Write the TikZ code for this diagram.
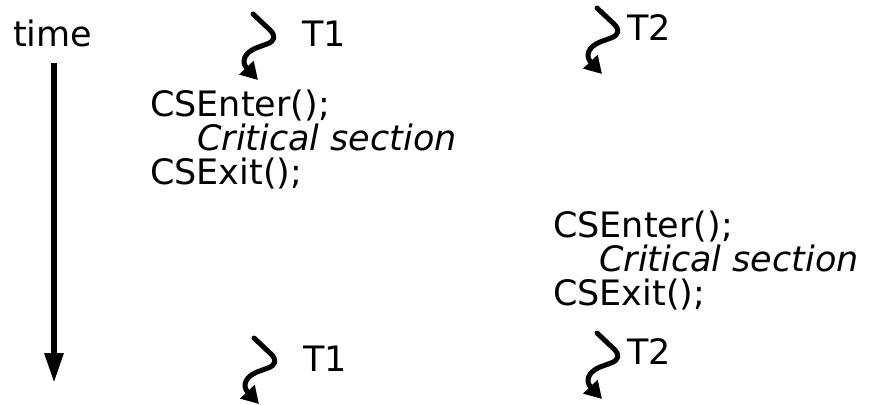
\documentclass[tikz,border=0pt]{standalone}
\usepackage{fontspec}
\setmainfont{DejaVu Sans}
\usetikzlibrary{arrows.meta}
\tikzset{
  lbl/.style={anchor=base west, inner sep=0pt, font=\fontsize{35}{40}\selectfont},
  crit/.style={lbl, font=\fontsize{35}{40}\selectfont\itshape},
  timearrow/.style={line width=6pt, -{Triangle[length=30pt,width=18pt]}},
  squig/.style={line width=5pt, line cap=round, line join=round, -{Triangle[length=17pt,width=19pt]}},
  pics/thread/.style={code={
    \draw[squig] (0,0) -- (17,16) .. controls (23,22) and (22,27) .. (14,30)
      -- (3,34) .. controls (-9,39) and (-12,48) .. (5,66);
  }}
}
\begin{document}
\begin{tikzpicture}[x=1pt,y=-1pt]
\useasboundingbox (0,0) rectangle (872,404);
% time axis
\node[lbl] (time) at (13,47) {time};
\coordinate (ttop) at (54,63);
\coordinate (tbot) at (54,383);
\draw[timearrow] (ttop) -- (tbot);
% thread markers
\pic at (253,14) {thread};
\node[lbl] (t1a) at (302,47) {T1};
\pic at (597,8) {thread};
\node[lbl] (t2a) at (627,41) {T2};
\pic at (254,338) {thread};
\node[lbl] (t1b) at (303,371) {T1};
\pic at (597,333) {thread};
\node[lbl] (t2b) at (627,364) {T2};
% left block
\node[lbl] (enter1) at (150,116) {CSEnter();};
\node[crit] (cs1) at (197,150) {Critical section};
\node[lbl] (exit1) at (150,184) {CSExit();};
% right block
\node[lbl] (enter2) at (553,237) {CSEnter();};
\node[crit] (cs2) at (599,271) {Critical section};
\node[lbl] (exit2) at (553,305) {CSExit();};
\end{tikzpicture}
\end{document}
